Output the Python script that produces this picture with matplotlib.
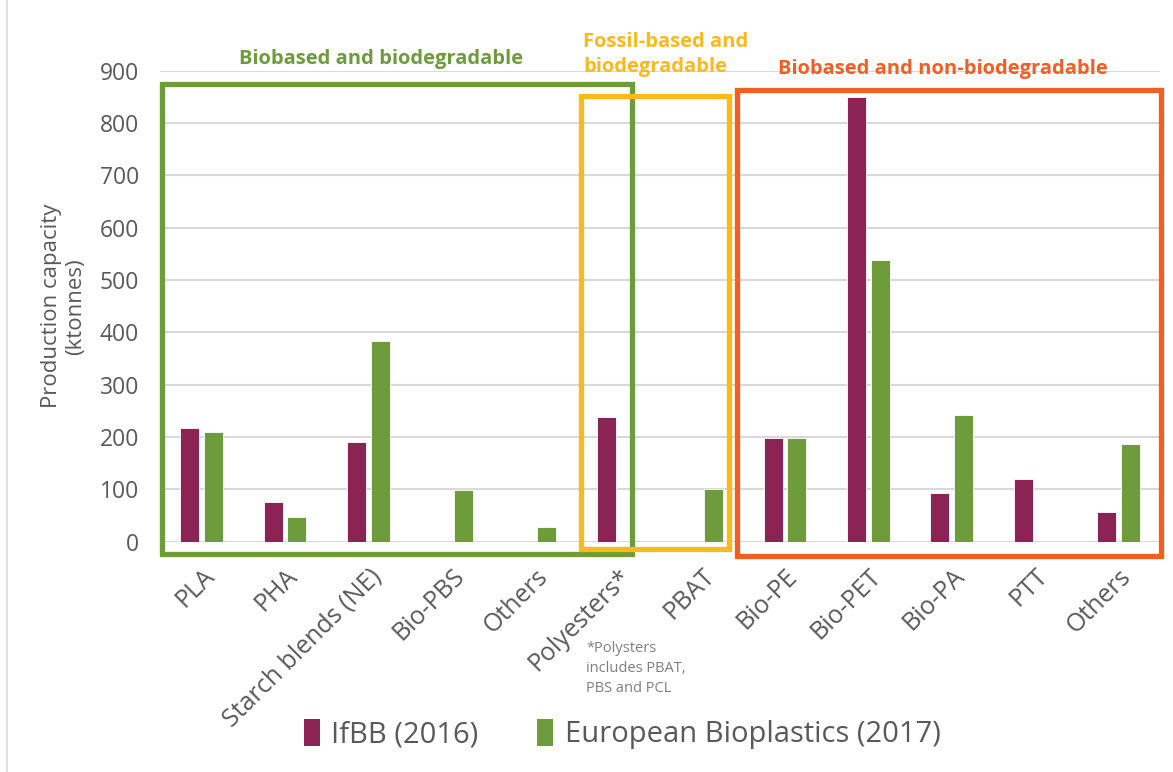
import matplotlib
matplotlib.use("Agg")
import matplotlib.pyplot as plt
from matplotlib.patches import Rectangle, Patch
from matplotlib.lines import Line2D
import numpy as np

categories = ["PLA", "PHA", "Starch blends (NE)", "Bio-PBS", "Others", "Polyesters*",
              "PBAT", "Bio-PE", "Bio-PET", "Bio-PA", "PTT", "Others"]
ifbb_2016 = [217, 75, 190, 0, 0, 239, 0, 199, 850, 94, 120, 56]
eubp_2017 = [209, 47, 384, 99, 29, 0, 101, 198, 538, 242, 0, 187]
y_ticks = [0, 100, 200, 300, 400, 500, 600, 700, 800, 900]
series_names = ["IfBB (2016)", "European Bioplastics (2017)"]

MAROON = "#8B2454"
GREEN = "#6E9C3D"
YELLOW = "#FBB91F"
ORANGE = "#F15F26"
GRAY = "#595959"
FONT = ["Open Sans", "DejaVu Sans"]

plt.rcParams["font.family"] = FONT

W, H = 1173, 772
fig = plt.figure(figsize=(W / 100, H / 100), dpi=100)
x0, x1 = 160, 1160
y0, y1 = 541.7, 70.7
ax = fig.add_axes([x0 / W, (H - y0) / H, (x1 - x0) / W, (y0 - y1) / H])

x = np.arange(len(categories))
bw = 0.228
off = 0.143
ax.bar(x - off, ifbb_2016, width=bw, color=MAROON, edgecolor="white", linewidth=0.6, zorder=3)
ax.bar(x + off, eubp_2017, width=bw, color=GREEN, edgecolor="white", linewidth=0.6, zorder=3)

ax.set_xlim(-0.5, len(categories) - 0.5)
ax.set_ylim(0, 900)
ax.set_yticks(y_ticks)
ax.yaxis.grid(True, color="#D9D9D9", linewidth=1.5, zorder=0)
ax.set_axisbelow(True)
for s in ax.spines.values():
    s.set_visible(False)
ax.tick_params(axis="y", length=0, pad=15, labelsize=16.5, labelcolor=GRAY)
ax.tick_params(axis="x", length=0, pad=16, labelsize=18, labelcolor=GRAY)
ax.set_xticks(x)
ax.set_xticklabels(categories, rotation=45, ha="right", rotation_mode="anchor")

ax.set_ylabel("Production capacity\n(ktonnes)", fontsize=16, color=GRAY, labelpad=10)

# group boxes (category units on x, value units on y)
def box(xl, xr, yb, yt, color):
    r = Rectangle((xl, yb), xr - xl, yt - yb, fill=False, edgecolor=color,
                  linewidth=3.8, clip_on=False, zorder=5)
    ax.add_patch(r)

box(-0.476, 5.16, -23.5, 873.7, GREEN)
box(4.55, 6.33, -14.5, 851.7, YELLOW)
box(6.42, 11.51, -26.8, 863, ORANGE)

ax.text(2.15, 903, "Biobased and biodegradable", color=GREEN, fontsize=14.5,
        fontweight="bold", ha="center", va="bottom", clip_on=False)
ax.text(4.58, 888, "Fossil-based and\nbiodegradable", color=YELLOW, fontsize=14.5,
        fontweight="bold", ha="left", va="bottom", linespacing=1.3, clip_on=False)
ax.text(8.9, 885, "Biobased and non-biodegradable", color=ORANGE, fontsize=14.5,
        fontweight="bold", ha="center", va="bottom", clip_on=False)

fig.text(586 / W, (H - 641) / H, "*Polysters\nincludes PBAT,\nPBS and PCL", color="#7F7F7F",
         fontsize=10.5, ha="left", va="top", linespacing=1.45)

handles = [Patch(facecolor=MAROON, edgecolor="none"), Patch(facecolor=GREEN, edgecolor="none")]
fig.legend(handles, series_names, loc="center", bbox_to_anchor=(622 / W, (H - 734) / H),
           ncol=2, frameon=False, fontsize=21, labelcolor=GRAY, handlelength=0.55,
           handleheight=1.05, handletextpad=0.4, columnspacing=2.0)

fig.add_artist(Line2D([7 / W, 7 / W], [0, 1], color="#D9D9D9", linewidth=1.2))

fig.savefig("out.png", dpi=100)
